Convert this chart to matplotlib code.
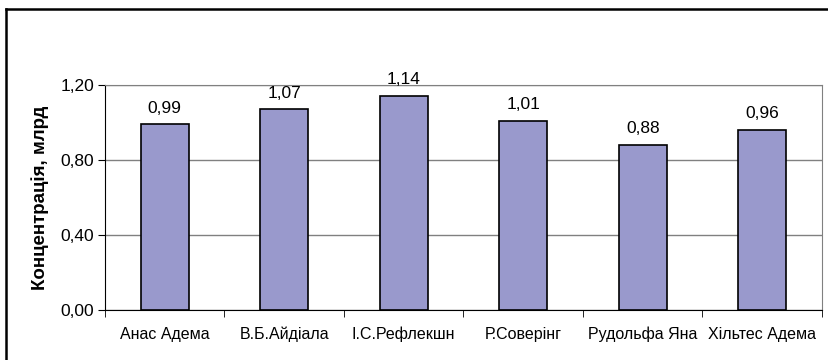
import matplotlib
matplotlib.use("Agg")
import matplotlib.pyplot as plt
from matplotlib.lines import Line2D

# дані
names = ['Анас Адема', 'В.Б.Айдіала', 'І.С.Рефлекшн', 'Р.Соверінг', 'Рудольфа Яна', 'Хільтес Адема']
values = [0.99, 1.07, 1.14, 1.01, 0.88, 0.96]
yticks = [0.0, 0.4, 0.8, 1.2]
ylabel = 'Концентрація, млрд'

plt.rcParams['font.family'] = ['Liberation Sans', 'DejaVu Sans']

W, H = 829, 360
fig = plt.figure(figsize=(W / 100, H / 100), dpi=100)
ax = fig.add_axes([105 / W, 1 - 310 / H, (822 - 105) / W, (310 - 85) / H])

x = list(range(len(names)))
ax.bar(x, values, width=0.4, color='#9999cc', edgecolor='black', linewidth=1.2, zorder=3)

for xi, v in zip(x, values):
    ax.annotate(f'{v:.2f}'.replace('.', ','), (xi, v), xytext=(0, 8.5),
                textcoords='offset points', ha='center', va='baseline', fontsize=12.5)

ax.set_xlim(-0.5, len(names) - 0.5)
ax.set_ylim(0, 1.2)
ax.set_yticks(yticks)
ax.set_yticklabels([f'{t:.2f}'.replace('.', ',') for t in yticks], fontsize=12.5)
ax.yaxis.grid(True, color='#808080', linewidth=1, zorder=0)

# підписи між категоріями
ax.set_xticks(x)
ax.set_xticklabels(names, fontsize=11.5)
ax.tick_params(axis='x', length=0, pad=12)
ax.set_xticks([i - 0.5 for i in range(len(names) + 1)], minor=True)
ax.tick_params(axis='x', which='minor', length=5, direction='out', color='black')
ax.tick_params(axis='y', length=5, direction='out', color='black', pad=3)

ax.set_ylabel(ylabel, fontsize=13.5, fontweight='bold', labelpad=8)

ax.spines['left'].set_color('black')
ax.spines['bottom'].set_color('black')
ax.spines['top'].set_color('#808080')
ax.spines['right'].set_color('#808080')

# рамка діаграми
fig.add_artist(Line2D([6 / W, 1.1], [1 - 9 / H, 1 - 9 / H], color='black', linewidth=1.8,
                      transform=fig.transFigure))
fig.add_artist(Line2D([6 / W, 6 / W], [1 - 9 / H, -0.1], color='black', linewidth=1.8,
                      transform=fig.transFigure))

fig.savefig('out.png', dpi=100)
